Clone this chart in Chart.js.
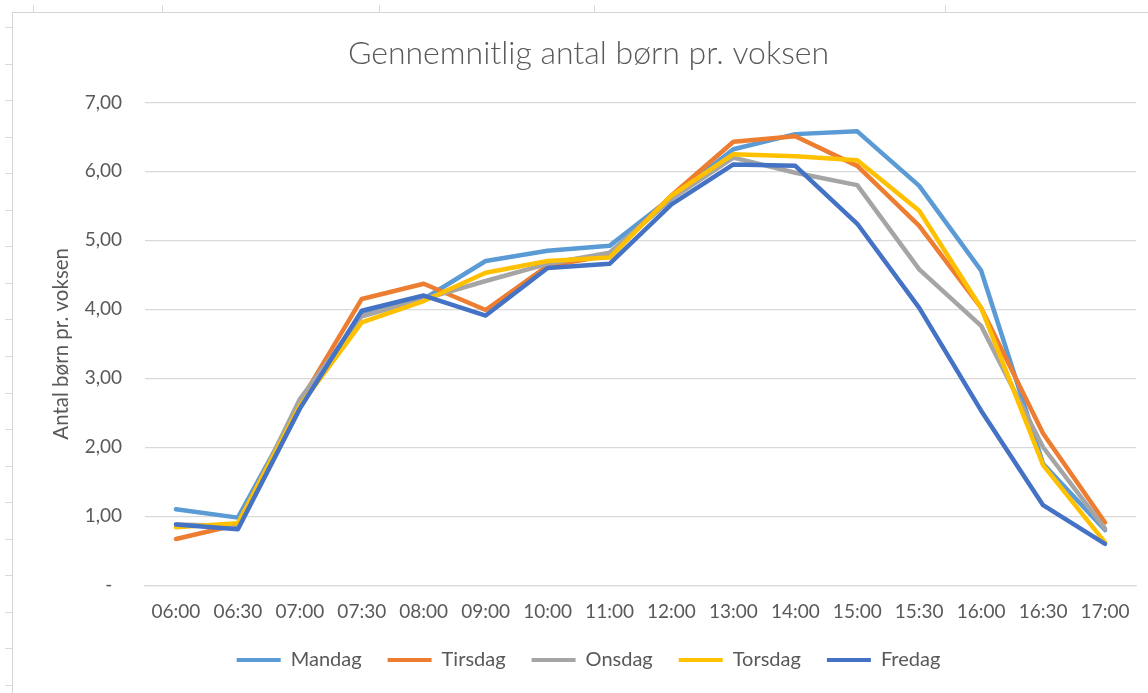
<!DOCTYPE html>
<html>
<head>
<meta charset="utf-8">
<script src="https://cdn.jsdelivr.net/npm/chart.js@4/dist/chart.umd.min.js"></script>
<style>
  html, body { margin: 0; padding: 0; background: #fff; overflow: hidden; width: 1148px; height: 693px; }
  #wrap { position: absolute; left: 12px; top: 12px; width: 1148px; height: 681px; border-top: 1px solid #d4d4d4; border-left: 1px solid #d4d4d4; }
  .tk { position: absolute; background: #dadada; }
</style>
</head>
<body>
<div id="deco"></div>
<div id="wrap"><canvas id="c" width="1148" height="681"></canvas></div>
<script>
const labels = ['06:00','06:30','07:00','07:30','08:00','09:00','10:00','11:00','12:00','13:00','14:00','15:00','15:30','16:00','16:30','17:00'];
const mandag  = [1.10, 0.98, 2.62, 3.93, 4.15, 4.70, 4.85, 4.92, 5.62, 6.32, 6.54, 6.58, 5.79, 4.56, 1.76, 0.80];
const tirsdag = [0.67, 0.88, 2.65, 4.15, 4.37, 3.99, 4.63, 4.78, 5.65, 6.43, 6.51, 6.08, 5.21, 4.02, 2.20, 0.91];
const onsdag  = [0.88, 0.86, 2.70, 3.90, 4.15, 4.41, 4.66, 4.82, 5.60, 6.20, 5.98, 5.80, 4.58, 3.76, 2.00, 0.82];
const torsdag = [0.84, 0.90, 2.60, 3.81, 4.12, 4.53, 4.70, 4.75, 5.65, 6.25, 6.22, 6.16, 5.43, 4.02, 1.74, 0.62];
const fredag  = [0.88, 0.81, 2.56, 3.98, 4.20, 3.91, 4.60, 4.66, 5.52, 6.10, 6.08, 5.24, 4.02, 2.53, 1.16, 0.60];
const seriesNames = ['Mandag','Tirsdag','Onsdag','Torsdag','Fredag'];
const seriesData = [mandag, tirsdag, onsdag, torsdag, fredag];
const seriesColors = ['#5B9BD5','#ED7D31','#A5A5A5','#FFC000','#4472C4'];
const yTicks = [0,1,2,3,4,5,6,7];

// spreadsheet background decoration
const deco = document.getElementById('deco');
[33,162,379,594,945].forEach(x => { const d = document.createElement('div'); d.className='tk'; d.style.cssText += `left:${x}px;top:5px;width:1px;height:7px;`; deco.appendChild(d); });
for (let y = 27; y < 693; y += 36.55) { const d = document.createElement('div'); d.className='tk'; d.style.cssText += `left:5px;top:${Math.round(y)}px;width:7px;height:1px;`; deco.appendChild(d); }

const FONT = 'Lato, "Open Sans", sans-serif';
const grey = '#595959';

new Chart(document.getElementById('c'), {
  type: 'line',
  data: {
    labels: labels,
    datasets: seriesNames.map((n, i) => ({
      label: n,
      data: seriesData[i],
      borderColor: seriesColors[i],
      backgroundColor: seriesColors[i],
      borderWidth: 4.5,
      pointRadius: 0,
      tension: 0,
      borderJoinStyle: 'round',
      borderCapStyle: 'round',
      order: seriesNames.length - i
    }))
  },
  options: {
    responsive: false,
    animation: false,
    layout: { padding: { left: 28, right: 25, top: 0, bottom: 14 } },
    plugins: {
      title: {
        display: true,
        text: 'Gennemnitlig antal børn pr. voksen',
        color: grey,
        font: { family: FONT, size: 32, weight: '300', lineHeight: 1.2 },
        padding: { top: 21, bottom: 30 }
      },
      legend: {
        position: 'bottom',
        labels: {
          color: grey,
          font: { family: FONT, size: 20 },
          boxWidth: 44,
          boxHeight: 4,
          padding: 26,
          sort: (a, b) => a.datasetIndex - b.datasetIndex,
          generateLabels: (chart) => Chart.defaults.plugins.legend.labels.generateLabels(chart).map(l => Object.assign(l, { lineWidth: 0, fillStyle: l.strokeStyle }))
        }
      },
      tooltip: { enabled: false }
    },
    scales: {
      x: {
        offset: true,
        afterFit: s => { s.height = s.height - 14; },
        grid: { display: false, drawTicks: false },
        border: { display: true, color: '#d9d9d9', width: 1.3 },
        ticks: { color: grey, font: { family: FONT, size: 19 }, padding: 15, maxRotation: 0, autoSkip: false }
      },
      y: {
        min: 0, max: 7,
        afterFit: s => { s.width = 104; },
        afterBuildTicks: s => { s.ticks = yTicks.map(v => ({ value: v })); },
        grid: { color: '#d9d9d9', lineWidth: 1.3, drawTicks: false },
        border: { display: false },
        title: { display: true, text: 'Antal børn pr. voksen', color: grey, font: { family: FONT, size: 20.5 }, padding: { top: 8, bottom: 0 } },
        ticks: {
          color: grey, font: { family: FONT, size: 19 }, padding: 23,
          callback: v => v === 0 ? '-  ' : v.toFixed(2).replace('.', ',')
        }
      }
    }
  }
});
</script>
</body>
</html>
